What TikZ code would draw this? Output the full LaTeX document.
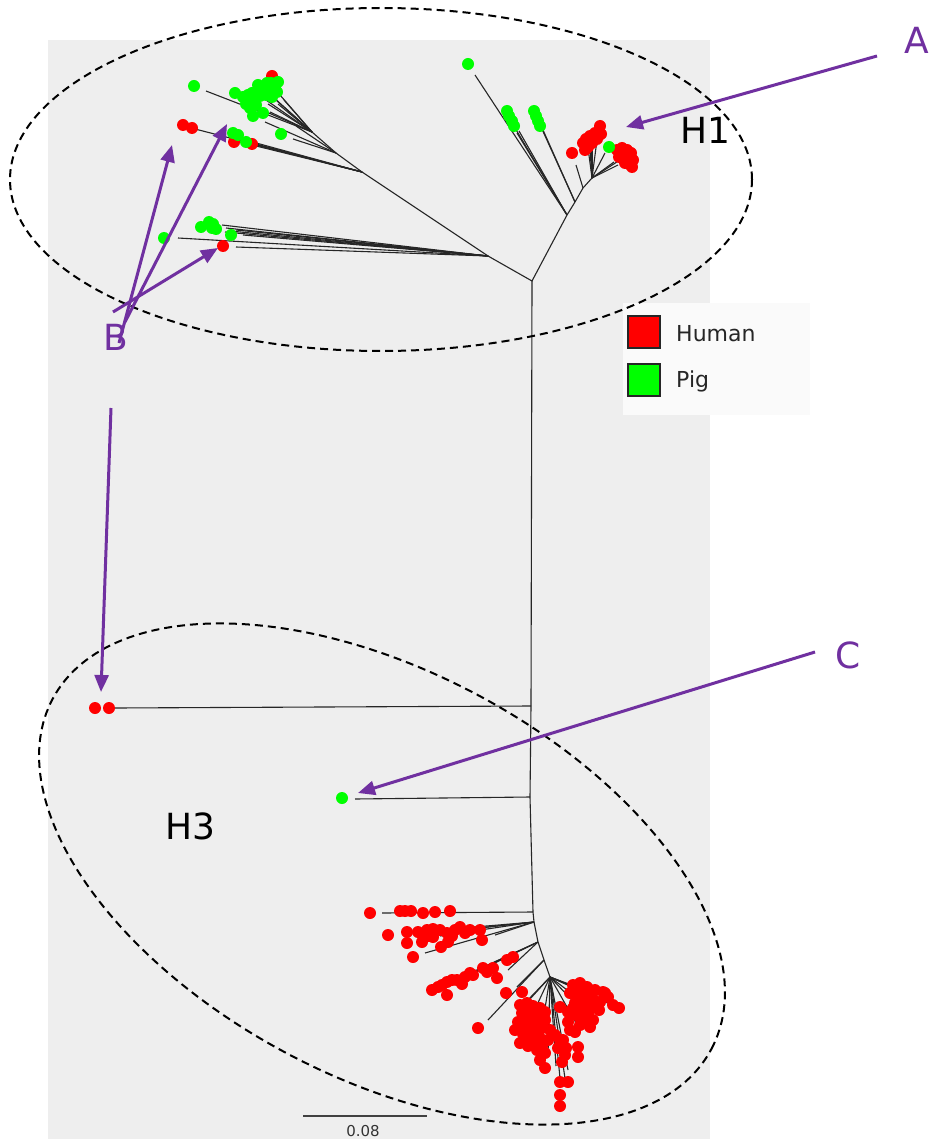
\documentclass[tikz,border=0pt]{standalone}
\usepackage{fontspec}
\setmainfont{DejaVu Sans}
\usetikzlibrary{arrows.meta}
\definecolor{bggray}{HTML}{EEEEEE}
\definecolor{legbg}{HTML}{FAFAFA}
\definecolor{purp}{HTML}{7030A0}
\definecolor{hred}{HTML}{FF0000}
\definecolor{pgreen}{HTML}{00FF00}
\begin{document}
\begin{tikzpicture}[x=1pt,y=-1pt,
  br/.style={line width=1.1pt, black!85},
  ell/.style={draw=black, line width=2pt, dash pattern=on 8pt off 5pt},
  parrow/.style={draw=purp, line width=3pt, -{Triangle[length=17pt,width=14pt]}},
  plabel/.style={text=purp, font=\fontsize{36}{40}\selectfont, inner sep=0},
  hlabel/.style={text=black, font=\fontsize{36}{40}\selectfont, inner sep=0},
  legsq/.style={draw=black!85, line width=1.5pt, minimum size=32pt, inner sep=0},
  legtxt/.style={anchor=west, text=black!85, font=\fontsize{22}{24}\selectfont, inner sep=0}]
\useasboundingbox (0,0) rectangle (933,1139);
\fill[white] (0,0) rectangle (933,1139);
\fill[bggray] (48,40) rectangle (710,1139);
% legend
\fill[legbg] (623,303) rectangle (810,415);
\node[legsq, fill=hred] (lh) at (644,332) {};
\node[legsq, fill=pgreen] (lp) at (644,380) {};
\node[legtxt] (th) at (676,334) {Human};
\node[legtxt] (tp) at (676,381) {Pig};
% scale bar
\coordinate (sb1) at (303,1116);
\coordinate (sb2) at (427,1116);
\draw[line width=1.2pt, black!75] (sb1) -- (sb2);
\node[text=black!80, font=\fontsize{15}{16}\selectfont, inner sep=0, anchor=base] (sbt) at (363,1136) {0.08};
% ---------------- tree ----------------
\coordinate (R) at (532,281);
\coordinate (N1) at (488,256);
\coordinate (N2) at (362,172);
\coordinate (N3) at (336,153);
\coordinate (N4) at (312,132);
\coordinate (T1) at (567,215);
\coordinate (T2) at (575,202);
\coordinate (T3) at (583,188);
\coordinate (T4) at (592,178);
\coordinate (B1) at (531,706);
\coordinate (B2) at (530,797);
\coordinate (S1) at (533,912);
\coordinate (S2) at (534,922);
\coordinate (B4) at (538,942);
\coordinate (B5) at (544,960);
\coordinate (F) at (550,977);
% backbone
\draw[br] (N4) -- (N3) -- (N2) -- (N1) -- (R) -- (T1) -- (T2) -- (T3) -- (T4);
\draw[br] (R) -- (B1) -- (B2) -- (S1) -- (S2) -- (B4) -- (B5) -- (F);
% upper-left H1
\foreach \p in {(273,97),(280,95),(268,104),(262,110),(276,100),(284,100),(270,112),(206,91),(278,104),(266,100)}
  \draw[br] (N4) -- \p;
\foreach \p in {(195,129),(245,142),(252,145),(238,138),(260,146),(256,144)}
  \draw[br] (N2) -- \p;
\foreach \p in {(293,139),(265,122),(296,126)}
  \draw[br] (N3) -- \p;
\foreach \p in {(178,238),(236,247),(222,225),(226,228),(243,235),(230,231),(236,230),(225,232)}
  \draw[br] (N1) -- \p;
% top-right H1
\draw[br] (T1) -- (475,75);
\foreach \p in {(517,133),(515,128),(519,131)} \draw[br] (T1) -- \p;
\foreach \p in {(543,130),(541,127)} \draw[br] (T2) -- \p;
\draw[br] (T3) -- (576,165);
\foreach \p in {(588,148),(592,145),(597,140),(590,150),(605,153),(620,160),(618,165),(614,162)}
  \draw[br] (T4) -- \p;
% H3
\draw[br] (B1) -- (115,708);
\draw[br] (B2) -- (355,799);
\draw[br] (S1) -- (382,913);
\foreach \p in {(403,933),(425,953),(495,935),(440,936),(460,930),(415,935)} \draw[br] (S2) -- \p;
\foreach \p in {(433,990),(508,970),(470,975),(450,983)} \draw[br] (B4) -- \p;
\foreach \p in {(517,987),(488,1020)} \draw[br] (B5) -- \p;
\foreach \p in {(525,1003),(530,1020),(540,1040),(548,1055),(556,1066),(560,1078),(566,1085),(568,1070),(575,988),(590,993),(612,1005),(600,1015),(580,1030),(585,990),(572,1000),(520,1010)}
  \draw[br] (F) -- \p;
% ---------------- dots ----------------
\foreach \p in {(272,76),(183,125),(192,128),(234,142),(252,144),(223,246),
  (572,153),(586,139),(590,136),(595,133),(600,126),(601,134),(588,147),(583,143),(592,143),(597,139),(585,150),(589,141),(594,138),
  (617,150),(622,148),(627,150),(631,153),(633,160),(632,167),(625,163),(619,157),(628,158),(624,155),(621,153),(629,164),
  (95,708),(109,708)}
  \fill[hred] \p circle[radius=6pt];
\foreach \p in {(194,86),(235,93),(243,97),(248,95),(253,100),(252,93),(258,85),(267,83),(271,83),(275,87),(277,92),(270,92),(263,88),(278,82),(246,104),(250,108),(256,105),(263,113),(253,116),(281,134),(233,133),(238,135),(246,142),(266,95),(272,97),(260,96),(249,100),
  (164,238),(201,227),(209,222),(213,224),(216,229),(212,228),(231,235),
  (468,64),(507,111),(509,116),(512,121),(514,126),(534,111),(536,116),(538,121),(540,126),(609,147),
  (342,798)}
  \fill[pgreen] \p circle[radius=6pt];
\foreach \p in {(370,913),(400,911),(405,911),(411,911),(423,913),(435,912),(450,911),
  (388,935),(407,932),(407,943),(413,957),(422,942),(418,932),(427,930),(433,929),(433,937),(441,947),(448,942),(447,933),(460,927),(465,933),(470,930),(482,940),(480,930),(455,930),(440,930),(452,936),(428,936),
  (432,990),(438,987),(447,982),(457,980),(465,977),(473,975),(483,968),(493,968),(497,978),(447,995),(507,960),(513,957),(478,1028),(506,993),(522,992),(452,980),(462,984),(487,972),(470,973),(442,985),
  (520,1005),(527,1003),(533,1006),(540,1008),(545,1012),(522,1013),(530,1015),(537,1017),(545,1020),(518,1022),(526,1024),(534,1026),(542,1028),(550,1030),(515,1030),(523,1034),(531,1036),(540,1038),(548,1040),(520,1043),(528,1046),(537,1050),(545,1053),(540,1060),(545,1068),
  (524,1009),(531,1010),(538,1013),(527,1019),(535,1021),(522,1027),(530,1030),(538,1033),(527,1040),(535,1043),(542,1046),
  (555,1035),(563,1040),(558,1048),(565,1055),(562,1062),(570,1030),(575,1032),(578,1047),(578,1057),(560,1007),(568,1022),(560,1040),(566,1048),
  (573,985),(580,983),(587,987),(595,990),(603,992),(570,993),(578,995),(586,998),(594,1000),(575,1003),(583,1006),(591,1008),(599,1010),(568,1012),(576,1015),(585,1017),(593,1020),(580,1025),(590,1027),(600,1002),(608,997),
  (577,990),(584,992),(591,994),(582,1000),(589,1002),(573,1008),(580,1011),(588,1013),(596,1005),(583,1020),
  (613,1005),(619,1008),(605,993),
  (560,1082),(568,1082),(560,1095),(560,1106)}
  \fill[hred] \p circle[radius=6pt];
% ---------------- ellipses ----------------
\draw[ell] (381,179.5) ellipse [x radius=371pt, y radius=171.5pt];
\draw[ell, rotate around={-28:(382,874)}] (382,874) ellipse [x radius=373pt, y radius=203pt];
% ---------------- labels ----------------
\node[hlabel] (h1) at (705,130) {H1};
\node[hlabel] (h3) at (190,826) {H3};
\node[plabel] (la) at (917,40) {A};
\node[plabel] (lb) at (116,337) {B};
\node[plabel] (lc) at (848,655) {C};
% ---------------- arrows ----------------
\coordinate (a0) at (877,56);   \coordinate (a1) at (626,127);
\coordinate (b0) at (113,312);  \coordinate (b1) at (218,248);
\coordinate (b2) at (119,343);  \coordinate (b3) at (172,145);
\coordinate (b4) at (125,322);  \coordinate (b5) at (227,124);
\coordinate (d0) at (111,408);  \coordinate (d1) at (101,692);
\coordinate (c0) at (815,652);  \coordinate (c1) at (358,793);
\draw[parrow] (a0) -- (a1);
\draw[parrow] (b0) -- (b1);
\draw[parrow] (b2) -- (b3);
\draw[parrow] (b4) -- (b5);
\draw[parrow] (d0) -- (d1);
\draw[parrow] (c0) -- (c1);
\end{tikzpicture}
\end{document}
